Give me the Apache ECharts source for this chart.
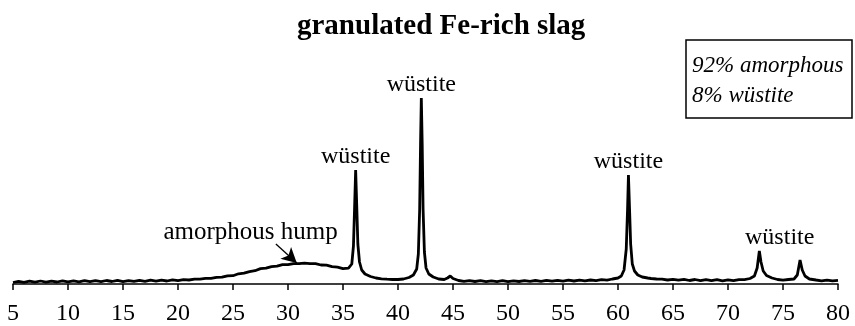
<!DOCTYPE html>
<html>
<head>
<meta charset="utf-8">
<script src="https://cdn.jsdelivr.net/npm/echarts@6/dist/echarts.min.js"></script>
<style>html,body{margin:0;padding:0;background:#fff;}#c{width:855px;height:326px;}</style>
</head>
<body>
<div id="c"></div>
<script>
// 2-theta positions (degrees)
const twoTheta = [
  5,5.5,6,6.5,7,7.5,8,8.5,9,9.5,10,10.5,11,11.5,12,12.5,13,13.5,14,14.5,15,15.5,16,16.5,17,17.5,18,18.5,19,19.5,
  20,20.5,21,21.5,22,22.5,23,23.5,24,24.5,25,25.5,26,26.5,27,27.5,28,28.5,29,29.5,30,30.5,31,31.5,32,32.5,33,33.5,34,34.5,
  35,35.5,35.8,35.95,36.05,36.15,36.25,36.35,36.5,36.7,37,37.5,38,38.5,39,39.5,40,40.5,41,41.4,41.7,41.85,41.97,42.05,42.12,42.2,42.28,42.4,42.55,42.8,
  43.2,43.7,44.2,44.5,44.75,45,45.5,46,46.5,47,47.5,48,48.5,49,49.5,50,50.5,51,51.5,52,52.5,53,53.5,54,54.5,55,55.5,56,56.5,57,57.5,58,58.5,59,59.5,
  60,60.3,60.55,60.75,60.87,60.95,61.05,61.15,61.3,61.5,61.8,62.2,62.7,63,63.5,64,64.5,65,65.5,66,66.5,67,67.5,68,68.5,69,69.5,70,70.5,71,71.5,
  72,72.4,72.65,72.85,73,73.2,73.5,74,74.5,75,75.5,76,76.3,76.55,76.75,77,77.4,78,78.5,79,79.5,80
];
// intensity (arbitrary units)
const intensity = [
  1.5,2.6,1.6,2.8,1.8,3.0,1.9,2.9,2.0,3.2,2.1,3.1,2.2,3.4,2.3,3.3,2.4,3.5,2.5,3.6,2.4,3.4,2.6,3.7,2.7,3.8,2.8,3.9,3.0,4.2,
  3.3,4.4,4.0,4.9,4.8,5.6,5.6,6.6,6.8,8.2,8.3,10.2,10.8,12.4,13.3,15.4,15.8,17.4,17.8,19.4,19.3,20.4,20.3,20.8,20.3,20.4,19.0,18.9,17.3,16.9,
  15.3,15.8,20,38,75,114,78,40,22,14,10,7.5,6,5.2,4.8,4.5,4.5,5,6.5,9,15,30,75,140,186,140,75,32,16,10,
  7,5,4.5,6,8,5.5,3.5,2.6,3.4,2.5,3.3,2.3,3.2,2.4,3.3,2.3,3.2,2.5,3.4,2.6,3.5,2.7,3.6,2.8,3.7,2.9,3.8,3.0,3.9,3.2,4.0,3.4,4.3,3.9,5,
  6,8,14,35,75,109,75,40,20,13,9,7,6,5.5,5,4.8,4.0,4.7,3.8,4.6,3.5,4.5,3.4,4.4,3.3,4.3,3.2,4.2,3.3,4.3,4.4,
  5.5,8,16,33,22,13,8.5,6,4.5,3.8,4.5,5,9,24,14,8,5,4,3.2,3.9,3.1,3.7
];
const xTicks = ['5','10','15','20','25','30','35','40','45','50','55','60','65','70','75','80'];
const peakLabel = 'wüstite';
const peakX = [36.15, 42.12, 60.95, 74.7];
const peakY = [114, 186, 109, 33];
const humpLabel = 'amorphous hump';
const humpLabelAt = [26.6, 39];
const humpArrow = [[28.9, 40], [30.8, 21]];
const titleText = 'granulated Fe-rich slag';
const boxLines = ['92% amorphous', '8% wüstite'];

const serif = '"Liberation Serif", "Times New Roman", serif';
const chart = echarts.init(document.getElementById('c'));
const pts = twoTheta.map((x, i) => [x, intensity[i]]);

chart.setOption({
  animation: false,
  backgroundColor: '#fff',
  title: {
    text: titleText, left: 292, top: 7,
    textStyle: {fontFamily: serif, fontWeight: 'bold', fontSize: 29, color: '#000'}
  },
  grid: {left: 13, right: 17, top: 84, bottom: 42},
  xAxis: {
    type: 'value', min: 5, max: 80, interval: 5,
    axisLine: {lineStyle: {color: '#000', width: 1.5}},
    axisTick: {length: 6, lineStyle: {color: '#000', width: 1.5}},
    axisLabel: {
      margin: 18, color: '#000', fontFamily: serif, fontSize: 24,
      formatter: (v) => xTicks[Math.round((v - 5) / 5)]
    },
    splitLine: {show: false}
  },
  yAxis: {type: 'value', min: 0, max: 200, show: false},
  series: [{
    type: 'line', data: pts, showSymbol: false, symbol: 'none',
    lineStyle: {color: '#000', width: 2.8}, silent: true,
    markPoint: {
      symbol: 'circle', symbolSize: 1, itemStyle: {color: 'rgba(0,0,0,0)'},
      label: {show: true, position: 'top', distance: 1, color: '#000', fontFamily: serif, fontSize: 24},
      data: peakX.map((x, i) => ({coord: [x, peakY[i]], value: peakLabel, label: {formatter: peakLabel}}))
        .concat([{coord: humpLabelAt, value: humpLabel, label: {formatter: humpLabel, fontSize: 25, distance: 0}}])
    },
    markLine: {
      silent: true, symbol: ['none', 'arrow'], symbolSize: [12, 15],
      label: {show: false},
      lineStyle: {color: '#000', width: 1.3, type: 'solid'},
      data: [[{coord: humpArrow[0]}, {coord: humpArrow[1]}]]
    }
  }],
  graphic: [
    {type: 'rect', shape: {x: 686, y: 40, width: 166, height: 78},
     style: {fill: '#fff', stroke: '#000', lineWidth: 1.5}},
    {type: 'text', style: {text: boxLines[0], x: 692, y: 66, textVerticalAlign: 'middle',
      font: 'italic 23px ' + serif, fill: '#000'}},
    {type: 'text', style: {text: boxLines[1], x: 692, y: 96, textVerticalAlign: 'middle',
      font: 'italic 23px ' + serif, fill: '#000'}}
  ]
});
</script>
</body>
</html>
